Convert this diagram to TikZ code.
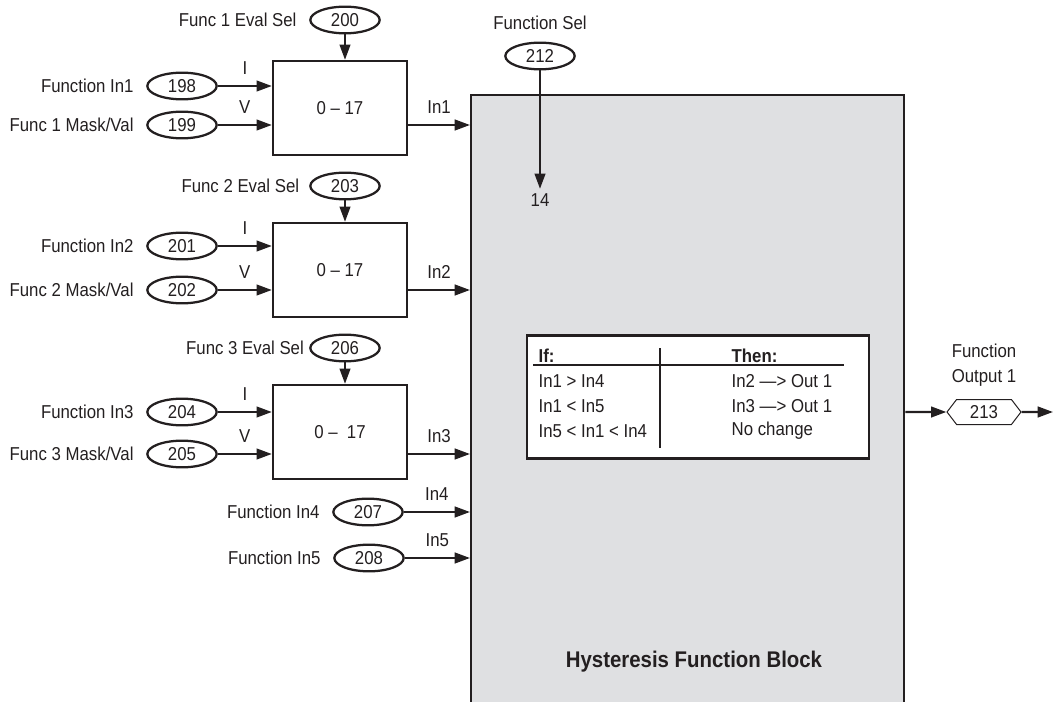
\documentclass[tikz,border=0pt]{standalone}
\usepackage{fontspec}
\setmainfont[FakeStretch=0.9]{Liberation Sans}
\usetikzlibrary{arrows.meta, positioning, shapes.geometric, shapes.symbols}
\definecolor{blockgray}{RGB}{223, 224, 226}
\definecolor{inkgray}{RGB}{35, 31, 32}
\tikzset{
  param/.style={draw=inkgray, ellipse, line width=1.7pt, minimum width=52pt, minimum height=20pt, inner sep=0pt},
  selbox/.style={draw=inkgray, rectangle, line width=1.7pt, minimum width=100.5pt, minimum height=70.5pt},
  lbl/.style={inner sep=1pt, above=7pt},
  sig/.style={draw=inkgray, line width=1.7pt, -{Triangle[length=11.5pt, width=8pt]}},
}

\begin{document}
\begin{tikzpicture}[x=0.75pt, y=-0.75pt, every node/.style={font=\fontsize{14}{18.5}\selectfont, text=inkgray}]
        \useasboundingbox (0,0) rectangle (1053,702);
        % hysteresis block
        \node[draw=inkgray, fill=blockgray, line width=1.7pt, anchor=north west, inner sep=0pt,
              minimum width=324.75pt, minimum height=480pt] (hfb) at (470,94) {};
        \node[font=\bfseries\fontsize{17}{20}\selectfont] (title) at (694,662) {Hysteresis Function Block};

        % function 1
        \node[selbox] (sel1) at (340,108) {0 -- 17};
        \node[param] (p200) at (345,20) {200};
        \node[left=6pt of p200] (l200) {Func 1 Eval Sel};
        \node[param] (p198) at (182,86) {198};
        \node[left=6pt of p198] (l198) {Function In1};
        \node[param] (p199) at (182,125) {199};
        \node[left=6pt of p199] (l199) {Func 1 Mask/Val};
        \draw[sig] (p200) -- (p200 |- sel1.north);
        \draw[sig] (p198) -- (p198 -| sel1.west) node[lbl, midway] {I};
        \draw[sig] (p199) -- (p199 -| sel1.west) node[lbl, midway] {V};
        \draw[sig] (sel1.east |- p199) -- (hfb.west |- p199) node[lbl, midway] {In1};

        % function 2
        \node[selbox] (sel2) at (340,270) {0 -- 17};
        \node[param] (p203) at (345,186) {203};
        \node[left=4pt of p203] (l203) {Func 2 Eval Sel};
        \node[param] (p201) at (182,246) {201};
        \node[left=6pt of p201] (l201) {Function In2};
        \node[param] (p202) at (182,290) {202};
        \node[left=6pt of p202] (l202) {Func 2 Mask/Val};
        \draw[sig] (p203) -- (p203 |- sel2.north);
        \draw[sig] (p201) -- (p201 -| sel2.west) node[lbl, midway] {I};
        \draw[sig] (p202) -- (p202 -| sel2.west) node[lbl, midway] {V};
        \draw[sig] (sel2.east |- p202) -- (hfb.west |- p202) node[lbl, midway] {In2};

        % function 3
        \node[selbox] (sel3) at (340,432) {0 --\ \ 17};
        \node[param] (p206) at (345,348) {206};
        \node[left=0.5pt of p206] (l206) {Func 3 Eval Sel};
        \node[param] (p204) at (182,412) {204};
        \node[left=6pt of p204] (l204) {Function In3};
        \node[param] (p205) at (182,454) {205};
        \node[left=6pt of p205] (l205) {Func 3 Mask/Val};
        \draw[sig] (p206) -- (p206 |- sel3.north);
        \draw[sig] (p204) -- (p204 -| sel3.west) node[lbl, midway] {I};
        \draw[sig] (p205) -- (p205 -| sel3.west) node[lbl, midway] {V};
        \draw[sig] (sel3.east |- p205) -- (hfb.west |- p205) node[lbl, midway] {In3};

        % inputs 4 and 5
        \node[param] (p207) at (368,512) {207};
        \node[left=6pt of p207] (l207) {Function In4};
        \node[param] (p208) at (369,558) {208};
        \node[left=6pt of p208] (l208) {Function In5};
        \draw[sig] (p207) -- (hfb.west |- p207) node[lbl, midway] {In4};
        \draw[sig] (p208) -- (hfb.west |- p208) node[lbl, midway] {In5};

        % function select
        \node[param] (p212) at (540,56) {212};
        \node[above=5pt of p212] (l212) {Function Sel};
        \node (fsel) at (540,200) {14};
        \draw[sig] (p212) -- (fsel.north);

        % truth table
        \node[draw=inkgray, fill=white, line width=1.7pt, inner sep=0pt,
              minimum width=256.5pt, minimum height=92.25pt] (tbl) at (698,397) {};
        \node[anchor=west, font=\bfseries\fontsize{14}{18.5}\selectfont] (ifh) at (534,356) {If:};
        \node[anchor=west, font=\bfseries\fontsize{14}{18.5}\selectfont] (thenh) at (727,356) {Then:};
        \node[anchor=west] (if1) at (534,381) {In1 > In4};
        \node[anchor=west] (if2) at (534,406) {In1 < In5};
        \node[anchor=west] (if3) at (534,431) {In5 < In1 < In4};
        \node[anchor=west] (then1) at (727,381) {In2 —> Out 1};
        \node[anchor=west] (then2) at (727,406) {In3 —> Out 1};
        \node[anchor=west] (then3) at (727,431) {No change};
        \draw[inkgray, line width=0.8pt] (533,365) -- (844,365);
        \draw[inkgray, line width=0.8pt] (660,348) -- (660,448);

        % output
        \node[draw=inkgray, line width=0.75pt, signal, signal to=east and west, signal pointer angle=105,
              minimum width=55.5pt, minimum height=18.75pt, inner sep=0pt] (p213) at (984,412) {213};
        \node[align=center, above=6pt of p213] (l213) {Function\\Output 1};
        \coordinate (outend) at (1053,412);
        \draw[sig] (hfb.east |- p213) -- (p213);
        \draw[sig] (p213) -- (outend);
      \end{tikzpicture}
\end{document}
